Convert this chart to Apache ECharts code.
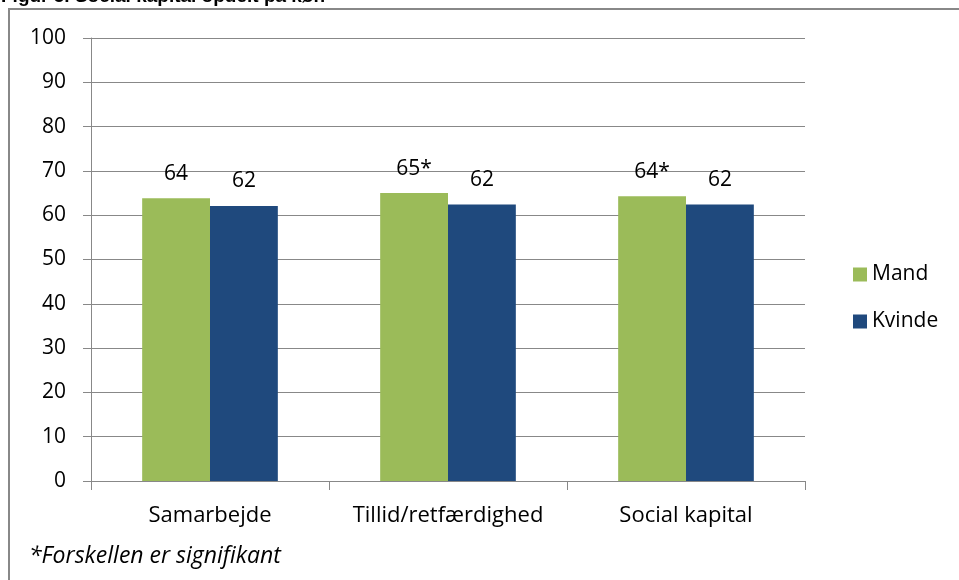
<!DOCTYPE html>
<html>
<head>
<meta charset="utf-8">
<script src="https://cdn.jsdelivr.net/npm/echarts@6/dist/echarts.min.js"></script>
<style>
  html, body { margin: 0; padding: 0; background: #fff; }
  #chart { width: 959px; height: 580px; }
</style>
</head>
<body>
<div id="chart"></div>
<script>
var categories = ["Samarbejde", "Tillid/retfærdighed", "Social kapital"];
var mandValues = [63.8, 65.0, 64.3];
var kvindeValues = [62.1, 62.4, 62.4];
var mandLabels = ["64", "65*", "64*"];
var kvindeLabels = ["62", "62", "62"];
var yTicks = [0, 10, 20, 30, 40, 50, 60, 70, 80, 90, 100];

var fontName = "Open Sans";
var chart = echarts.init(document.getElementById("chart"));

var option = {
    animation: false,
    backgroundColor: "#fff",
    graphic: [
        {
            type: "rect",
            shape: { x: 9, y: 9, width: 980, height: 600 },
            style: { fill: "none", stroke: "#888", lineWidth: 2 }
        },
        {
            type: "text",
            x: 1, y: 6,
            style: {
                text: "Figur 5. Social kapital opdelt på køn",
                font: "bold 19px Arial",
                fill: "#000",
                verticalAlign: "bottom"
            }
        },
        {
            type: "text",
            x: 29, y: 556,
            style: {
                text: "*Forskellen er signifikant",
                font: "italic 23px " + fontName,
                fill: "#000",
                verticalAlign: "middle"
            }
        }
    ],
    grid: { left: 91, right: 154, top: 38, bottom: 99 },
    legend: {
        orient: "vertical",
        left: 848,
        top: 259,
        itemWidth: 14,
        itemHeight: 14,
        itemGap: 26,
        icon: "rect",
        textStyle: { fontFamily: fontName, fontSize: 21, color: "#000" },
        data: ["Mand", "Kvinde"]
    },
    xAxis: {
        type: "category",
        data: categories,
        axisLine: { lineStyle: { color: "#888", width: 1 } },
        axisTick: { show: true, interval: 0, length: 9, lineStyle: { color: "#888" } },
        axisLabel: {
            interval: 0,
            hideOverlap: false,
            fontFamily: fontName,
            fontSize: 22,
            color: "#000",
            margin: 24
        }
    },
    yAxis: {
        type: "value",
        min: yTicks[0],
        max: yTicks[yTicks.length - 1],
        interval: 10,
        axisLine: { show: true, lineStyle: { color: "#888", width: 1 } },
        axisTick: { show: true, length: 8, lineStyle: { color: "#888" } },
        splitLine: { lineStyle: { color: "#888", width: 1 } },
        axisLabel: { fontFamily: fontName, fontSize: 21, color: "#000", margin: 25 }
    },
    series: [
        {
            name: "Mand",
            type: "bar",
            data: mandValues,
            barGap: "0%",
            barCategoryGap: "43%",
            itemStyle: { color: "#9BBB59" },
            label: {
                show: true,
                position: "top",
                distance: 14,
                fontFamily: fontName,
                fontSize: 21,
                color: "#000",
                formatter: function (p) { return mandLabels[p.dataIndex]; }
            }
        },
        {
            name: "Kvinde",
            type: "bar",
            data: kvindeValues,
            itemStyle: { color: "#1F497D" },
            label: {
                show: true,
                position: "top",
                distance: 14,
                fontFamily: fontName,
                fontSize: 21,
                color: "#000",
                formatter: function (p) { return kvindeLabels[p.dataIndex]; }
            }
        }
    ]
};

chart.setOption(option);
</script>
</body>
</html>
